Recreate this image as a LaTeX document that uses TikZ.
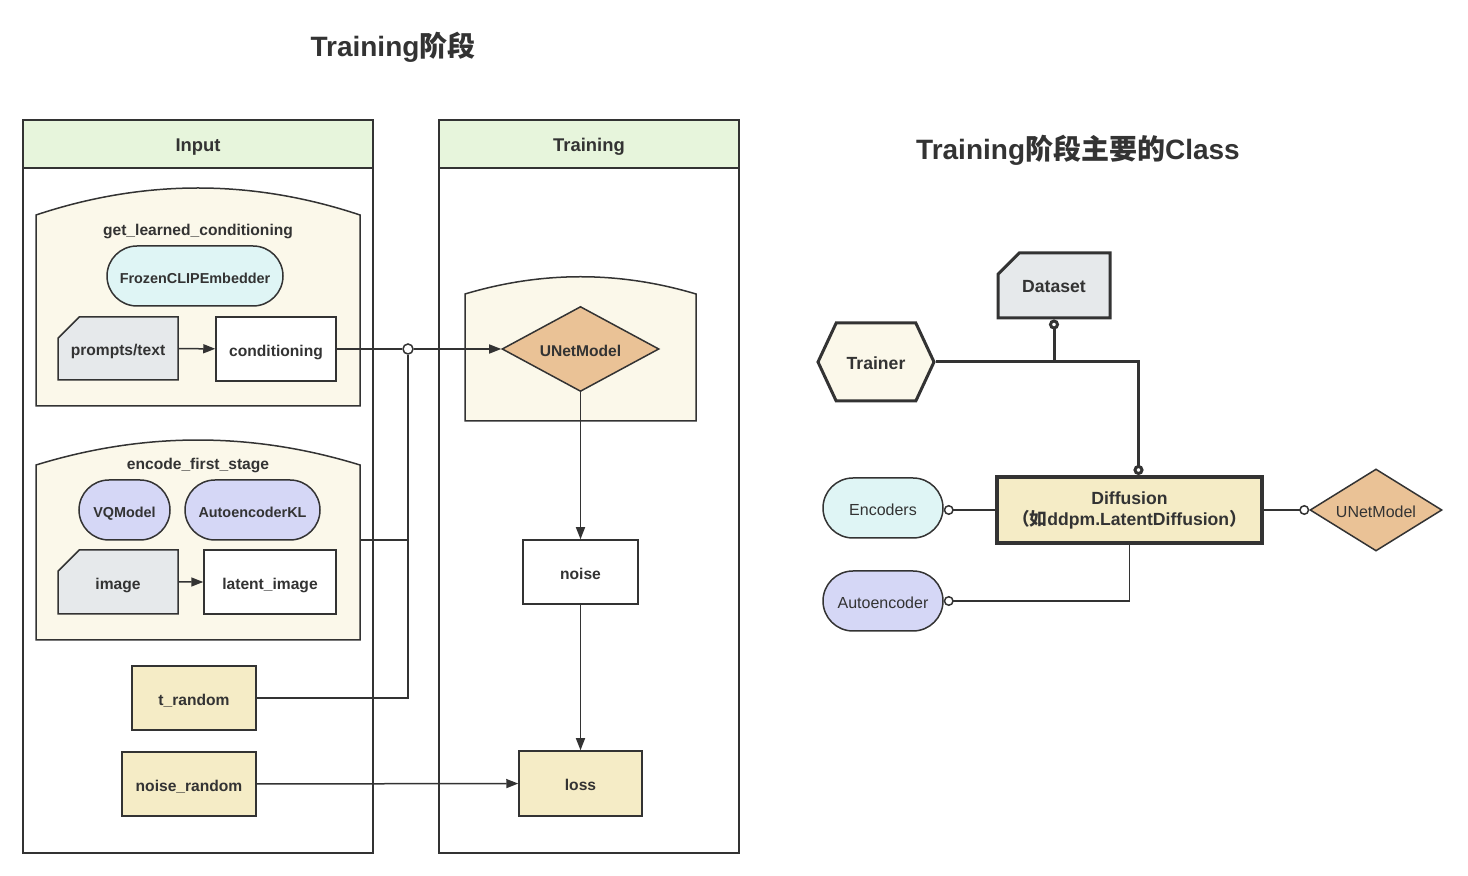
\documentclass[tikz,border=0pt]{standalone}
\usepackage{fontspec}
\setmainfont{Liberation Sans}
\newfontfamily\cjk{Noto Sans CJK SC}
\usetikzlibrary{arrows.meta,shapes.geometric,shapes.misc,shapes.symbols}
\definecolor{ink}{HTML}{333333}
\definecolor{hdrgreen}{HTML}{E7F5DC}
\definecolor{cream}{HTML}{FBF8EA}
\definecolor{cyanbox}{HTML}{DFF5F5}
\definecolor{graybox}{HTML}{E6E9EB}
\definecolor{lavbox}{HTML}{D5D7F6}
\definecolor{wheat}{HTML}{F5ECC6}
\definecolor{peach}{HTML}{EAC296}
\tikzset{>={Triangle[length=6pt,width=4.5pt]}}

\begin{document}
\begin{tikzpicture}[x=0.5pt,y=-0.5pt,color=ink,line width=.75pt,
		txt/.style={text height=.72em,text depth=0pt},
		lbl/.style={txt,font=\fontsize{7.8}{9}\selectfont\bfseries},
		box/.style={draw,lbl,inner sep=0pt,minimum width=#1},
		sheet/.style={box=#1,chamfered rectangle,chamfered rectangle corners=north west,
			chamfered rectangle xsep=7pt,chamfered rectangle ysep=7pt,fill=graybox},
		pill/.style={box=#1,font=\fontsize{7.2}{9}\selectfont\bfseries,rounded corners=15pt,minimum height=30pt},
		junction/.style={circle,draw,fill=white,inner sep=0pt,minimum size=5pt},
		grp/.style={fill=cream},
		thk/.style={line width=1.5pt},
		dot/.style={-{Circle[length=5pt,fill=white]}}]
	\useasboundingbox (0,0) rectangle (1468,876);
	% titles
	\node[txt,font=\fontsize{14}{17}\selectfont\bfseries] (t1) at (393,49) {Training{\cjk 阶段}};
	\node[txt,font=\fontsize{14}{17}\selectfont\bfseries] (t2) at (1078,152) {Training{\cjk 阶段主要的}Class};
	% lanes
	\foreach \xa/\xb/\name in {23/373/Input,439/739/Training}{
		\draw[line width=1pt,fill=hdrgreen] (\xa,120) rectangle (\xb,168);
		\draw[line width=1pt] (\xa,168) rectangle (\xb,853);
		\node[txt,font=\fontsize{9.2}{11}\selectfont\bfseries] at ({(\xa+\xb)/2},144) {\name};
	}
	% groups
	\draw[grp] (36,406) -- (36,215) .. controls (144,179) and (252,179) .. (360,215) -- (360,406) -- cycle;
	\draw[grp] (36,640) -- (36,465) .. controls (144,431.7) and (252,431.7) .. (360,465) -- (360,640) -- cycle;
	\draw[grp] (465,421) -- (465,294) .. controls (542,271) and (619,271) .. (696,294) -- (696,421) -- cycle;
	\coordinate (enc-e) at (360,540);
	\node[lbl] (glc) at (198,228) {get\_learned\_conditioning};
	\node[lbl] (efs) at (198,462) {encode\_first\_stage};
	% input side
	\node[pill=88pt,fill=cyanbox] (clip) at (195,276) {FrozenCLIPEmbedder};
	\node[sheet=60pt,minimum height=31.5pt] (prompts) at (118,348.5) {prompts/text};
	\node[box=60pt,minimum height=32pt,fill=white] (cond) at (276,349) {conditioning};
	\node[pill=45.5pt,fill=lavbox] (vq) at (124.5,510) {VQModel};
	\node[pill=67.5pt,fill=lavbox] (aekl) at (252.5,510) {AutoencoderKL};
	\node[sheet=60pt,minimum height=32pt] (img) at (118,582) {image};
	\node[box=66pt,minimum height=32pt,fill=white] (latent) at (270,582) {latent\_image};
	\node[box=62pt,minimum height=32pt,fill=wheat] (trand) at (194,698) {t\_random};
	\node[box=67pt,minimum height=32pt,fill=wheat] (nrand) at (189,784) {noise\_random};
	% training side
	\node[diamond,aspect=1.83,draw,lbl,fill=peach,inner sep=0pt,minimum width=78.5pt,minimum height=42.5pt] (unet) at (580.5,349) {UNetModel};
	\node[box=57.5pt,minimum height=32pt,fill=white] (noise) at (580.5,572) {noise};
	\node[box=61.5pt,minimum height=32.5pt,fill=wheat] (loss) at (580.5,783.5) {loss};
	\node[junction] (j) at (408,349) {};
	\draw[->] (prompts) -- (cond);
	\draw[->] (img) -- (latent);
	\draw (cond) -- (j);
	\draw[->] (j) -- (unet);
	\draw (enc-e) -| (j);
	\draw (trand) -| (j);
	\draw[->] (unet) -- (noise);
	\draw[->] (noise) -- (loss);
	\draw[->] (nrand) -- (loss);
	% classes
	\begin{scope}[font=\fontsize{8.8}{10.5}\selectfont\bfseries]
		\node[draw,thk,txt,chamfered rectangle,chamfered rectangle corners=north west,
			chamfered rectangle xsep=7pt,chamfered rectangle ysep=7pt,fill=graybox,
			inner sep=0pt,minimum width=56pt,minimum height=32.5pt] (data) at (1054,285.5) {Dataset};
		\node[draw,thk,txt,signal,signal to=east and west,signal pointer angle=130,fill=cream,
			inner sep=0pt,minimum width=58pt,minimum height=39pt] (trainer) at (876,362) {Trainer};
		\node[draw,line width=2pt,fill=wheat,align=center,inner sep=0pt,
			minimum width=132.5pt,minimum height=33pt] (diff) at (1129.5,510)
			{Diffusion\\{\cjk （如}ddpm.LatentDiffusion{\cjk ）}};
	\end{scope}
	\begin{scope}[font=\fontsize{8}{10}\selectfont]
		\node[draw,txt,rounded corners=15pt,fill=cyanbox,minimum width=60pt,minimum height=30pt] (enc) at (883,508) {Encoders};
		\node[draw,txt,rounded corners=15pt,fill=lavbox,minimum width=60pt,minimum height=30pt] (auto) at (883,601) {Autoencoder};
		\node[diamond,aspect=1.7,draw,txt,fill=peach,inner sep=0pt,minimum width=66pt,minimum height=41pt] (unet2) at (1376,510) {UNetModel};
	\end{scope}
	\draw[thk,dot] (trainer.east) -| ([xshift=4.5pt]diff.north);
	\draw[thk,dot] (data.south |- trainer.east) -- (data.south);
	\draw[dot] (diff.west) -- (diff.west -| enc.east);
	\draw[dot] (diff.south) |- (auto.east);
	\draw[dot] (diff.east) -- (unet2.west);
\end{tikzpicture}
\end{document}
